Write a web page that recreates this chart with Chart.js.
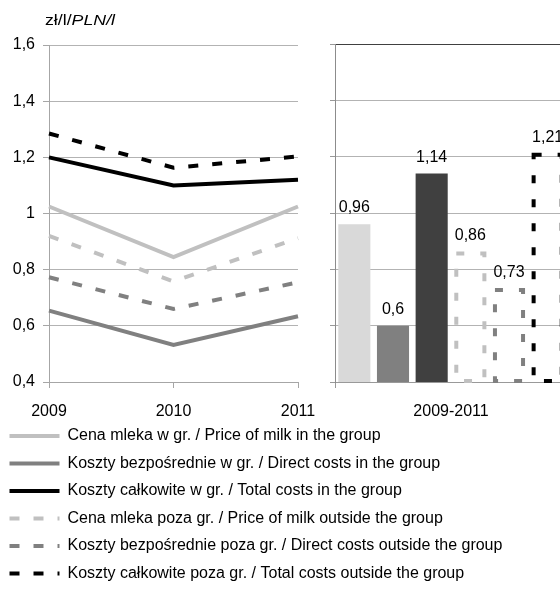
<!DOCTYPE html>
<html>
<head>
<meta charset="utf-8">
<script src="https://cdn.jsdelivr.net/npm/chart.js@4.4.1/dist/chart.umd.min.js"></script>
<style>
html,body{margin:0;padding:0;background:#fff;}
#wrap{position:relative;width:560px;height:593px;overflow:hidden;background:#fff;}
#c1{position:absolute;left:-2px;top:0;}
#c2{position:absolute;left:320px;top:0;}
</style>
</head>
<body>
<div id="wrap">
<canvas id="c1" width="562" height="593"></canvas>
<canvas id="c2" width="260" height="420"></canvas>
</div>
<script>
// ---- data ----
const years = ['2009', '2010', '2011'];
const priceIn   = [1.025, 0.845, 1.025];
const directIn  = [0.654, 0.532, 0.634];
const totalIn   = [1.20, 1.10, 1.12];
const priceOut  = [0.92, 0.758, 0.912];
const directOut = [0.773, 0.66, 0.755];
const totalOut  = [1.285, 1.163, 1.203];
const seriesNames = [
  'Cena mleka w gr. / Price of milk in the group',
  'Koszty bezpośrednie w gr. / Direct costs in the group',
  'Koszty całkowite w gr. / Total costs in the group',
  'Cena mleka poza gr. / Price of milk outside the group',
  'Koszty bezpośrednie poza gr. / Direct costs outside the group',
  'Koszty całkowite poza gr. / Total costs outside the group'
];
const periodLabels = ['2009-2011'];
const avgValues = [0.96, 0.6, 1.14, 0.86, 0.73, 1.21];
const yMin = 0.4, yMax = 1.6, yStep = 0.2;
const unitPlain = 'zł/l/';
const unitItalic = 'PLN/l';

// ---- styles ----
const FONT = '"Liberation Sans", Arial, sans-serif';
Chart.defaults.font.family = FONT;
Chart.defaults.color = '#000';
const LIGHT = '#c0c0c0', MID = '#808080', DARK = '#000000';
const DASH = [10, 14];
const fmt = v => String(Math.round(v * 100) / 100).replace('.', ',');

const lineSeries = [priceIn, directIn, totalIn, priceOut, directOut, totalOut];
const lineColors = [LIGHT, MID, DARK, LIGHT, MID, DARK];
const lineDashed = [false, false, false, true, true, true];

const unitTitle = {
  id: 'unitTitle',
  afterDraw(chart) {
    const ctx = chart.ctx;
    ctx.save();
    ctx.fillStyle = '#000';
    ctx.textBaseline = 'middle';
    ctx.font = '14px ' + FONT;
    const w1 = ctx.measureText(unitPlain).width;
    ctx.font = 'italic 14px ' + FONT;
    const w2 = ctx.measureText(unitItalic).width;
    const sx = 70 / (w1 + w2);
    ctx.translate(47, 21);
    ctx.scale(sx, 1);
    ctx.font = '14px ' + FONT;
    ctx.fillText(unitPlain, 0, 0);
    ctx.font = 'italic 14px ' + FONT;
    ctx.fillText(unitItalic, w1, 0);
    ctx.restore();
  }
};

new Chart(document.getElementById('c1'), {
  type: 'line',
  data: {
    labels: years,
    datasets: lineSeries.map((d, i) => ({
      label: seriesNames[i],
      data: d,
      borderColor: lineColors[i],
      backgroundColor: lineColors[i],
      borderWidth: 4,
      borderDash: lineDashed[i] ? DASH : [],
      pointRadius: 0,
      tension: 0,
      fill: false
    }))
  },
  options: {
    responsive: false,
    animation: false,
    events: [],
    layout: { padding: { top: 45, left: 0, right: 0, bottom: 1.5 } },
    scales: {
      x: {
        type: 'category',
        offset: false,
        grid: { drawOnChartArea: false, tickLength: 6, color: '#a6a6a6' },
        border: { color: '#a6a6a6' },
        ticks: { color: '#000', font: { size: 16 }, padding: 14, maxRotation: 0, autoSkip: false },
        afterFit(s) { s.height = 34.5; }
      },
      y: {
        min: yMin, max: yMax,
        ticks: { stepSize: yStep, color: '#000', font: { size: 16 }, padding: 8, callback: v => fmt(v) },
        grid: { color: '#b3b3b3', tickLength: 6, tickColor: '#a6a6a6' },
        border: { color: '#a6a6a6' },
        afterFit(s) { s.width = 51; }
      },
      yR: {
        type: 'linear',
        position: 'right',
        display: true,
        grid: { display: false, drawTicks: false },
        border: { display: false },
        ticks: { display: false },
        afterFit(s) { s.width = 262; }
      }
    },
    plugins: {
      tooltip: { enabled: false },
      legend: {
        position: 'bottom',
        align: 'start',
        labels: {
          usePointStyle: true,
          pointStyle: 'line',
          pointStyleWidth: 50,
          padding: 11.5,
          color: '#000',
          font: { size: 16 },
          generateLabels(chart) {
            const items = Chart.defaults.plugins.legend.labels.generateLabels(chart);
            items.forEach(it => {
              const ds = chart.data.datasets[it.datasetIndex];
              it.lineDash = ds.borderDash;
              it.lineDashOffset = 0;
              it.lineWidth = 4;
              it.strokeStyle = ds.borderColor;
              it.lineCap = 'butt';
            });
            return items;
          }
        }
      }
    }
  },
  plugins: [unitTitle]
});

// ---- bar chart ----
const barFill = ['#d9d9d9', '#808080', '#404040', null, null, null];
const barDash = [null, null, null, LIGHT, MID, DARK];

const barExtras = {
  id: 'barExtras',
  afterDatasetsDraw(chart) {
    const ctx = chart.ctx;
    const area = chart.chartArea;
    chart.data.datasets.forEach((ds, i) => {
      const meta = chart.getDatasetMeta(i);
      meta.data.forEach((el, j) => {
        const p = el.getProps(['x', 'y', 'base', 'width'], true);
        if (barDash[i]) {
          ctx.save();
          ctx.strokeStyle = barDash[i];
          ctx.lineWidth = 4;
          ctx.setLineDash([8, 16]);
          const l = p.x - p.width / 2 + 2, r = p.x + p.width / 2 - 2, t = p.y + 1;
          const b = Math.min(p.base, area.bottom) - 1;
          ctx.beginPath();
          ctx.moveTo(l, t);
          ctx.lineTo(r, t);
          ctx.lineTo(r, b);
          ctx.lineTo(l, b);
          ctx.closePath();
          ctx.stroke();
          ctx.restore();
        }
        ctx.save();
        ctx.font = '16px ' + FONT;
        ctx.fillStyle = '#000';
        ctx.textAlign = 'center';
        ctx.textBaseline = 'alphabetic';
        ctx.fillText(fmt(ds.data[j]), p.x, p.y - 12);
        ctx.restore();
      });
    });
  }
};

new Chart(document.getElementById('c2'), {
  type: 'bar',
  data: {
    labels: periodLabels,
    datasets: avgValues.map((v, i) => ({
      label: seriesNames[i],
      data: [v],
      backgroundColor: barFill[i] || 'rgba(0,0,0,0)',
      borderWidth: 0,
      categoryPercentage: 1,
      barPercentage: 0.83
    }))
  },
  options: {
    responsive: false,
    animation: false,
    events: [],
    layout: { padding: { top: 44, left: 0, right: 13, bottom: 0 } },
    scales: {
      x: {
        offset: true,
        grid: { drawOnChartArea: false, tickLength: 6, color: '#999', offset: true },
        border: { color: '#999' },
        ticks: { color: '#000', font: { size: 16 }, padding: 14, maxRotation: 0 },
        afterFit(s) { s.height = 38; }
      },
      y: {
        min: yMin, max: yMax,
        ticks: { display: false, stepSize: yStep },
        grid: {
          color: c => (c.tick && c.tick.value > yMax - 1e-6) ? '#404040' : '#b3b3b3',
          tickLength: 5, tickColor: '#999'
        },
        border: { color: '#8c8c8c' },
        afterFit(s) { s.width = 15; }
      }
    },
    plugins: { legend: { display: false }, tooltip: { enabled: false } }
  },
  plugins: [barExtras]
});
</script>
</body>
</html>
